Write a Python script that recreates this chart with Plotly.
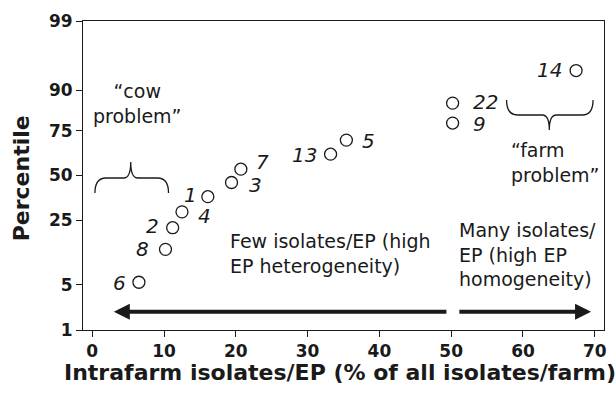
import plotly.graph_objects as go
from statistics import NormalDist

# ---- data ----
farm_ids = ["6", "8", "2", "4", "1", "3", "7", "13", "5", "9", "22", "14"]
intrafarm_pct = [6.5, 10.2, 11.2, 12.5, 16.1, 19.4, 20.7, 33.2, 35.4, 50.2, 50.2, 67.4]
percentile = [5.4, 13.3, 21.6, 29.2, 37.5, 45.8, 53.8, 62.6, 70.3, 78.5, 86.2, 94.3]
# label offsets (px) relative to point: dx right, dy down
label_dx = [-19, -23, -20, 23, -17, 24, 22, -26, 22, 27, 33, -27]
label_dy = [1, 0, -2, 4, -2, 2, -7, 1, 1, 1, -1, -1]

y_tick_pct = [1, 5, 25, 50, 75, 90, 99]
x_ticks = [0, 10, 20, 30, 40, 50, 60, 70]

FONT = "DejaVu Sans"
INK = "#1a1a1a"

nd = NormalDist()
z = lambda p: nd.inv_cdf(p / 100.0)

W, H = 616, 394
ML, MR, MT, MB = 83, 9, 21, 64
PW, PH = W - ML - MR, H - MT - MB
XR = [-1.29, 71.29]
YR = [z(1), z(99)]


def px2x(px):
    return XR[0] + (px - ML) / PW * (XR[1] - XR[0])


def py2y(py):
    return YR[1] - (py - MT) / PH * (YR[1] - YR[0])


yvals = [z(p) for p in percentile]

fig = go.Figure()
fig.add_trace(go.Scatter(
    x=intrafarm_pct, y=yvals, mode="markers",
    marker=dict(symbol="circle-open", size=12, color=INK, line=dict(width=1.3, color=INK)),
    hoverinfo="skip", showlegend=False,
))

ann = []
for lab, xv, yv, dx, dy in zip(farm_ids, intrafarm_pct, yvals, label_dx, label_dy):
    ann.append(dict(x=xv, y=yv, xref="x", yref="y", text=f"<i>{lab}</i>", showarrow=False,
                    xshift=dx, yshift=-dy, font=dict(family=FONT, size=20, color=INK)))

# text blocks
ann.append(dict(x=px2x(137), y=py2y(103), xref="x", yref="y", text="“cow<br>problem”",
                showarrow=False, align="center", xanchor="center", yanchor="middle",
                font=dict(family=FONT, size=19, color=INK)))
ann.append(dict(x=px2x(511), y=py2y(162), xref="x", yref="y", text="“farm<br>problem”",
                showarrow=False, align="left", xanchor="left", yanchor="middle",
                font=dict(family=FONT, size=19, color=INK)))
ann.append(dict(x=px2x(229), y=py2y(253), xref="x", yref="y",
                text="Few isolates/EP (high<br>EP heterogeneity)",
                showarrow=False, align="left", xanchor="left", yanchor="middle",
                font=dict(family=FONT, size=19, color=INK)))
ann.append(dict(x=px2x(459), y=py2y(254), xref="x", yref="y",
                text="Many isolates/<br>EP (high EP<br>homogeneity)",
                showarrow=False, align="left", xanchor="left", yanchor="middle",
                font=dict(family=FONT, size=19, color=INK)))

# arrows
ya = py2y(311.7)
ann.append(dict(x=px2x(114), y=ya, ax=px2x(450), ay=ya, xref="x", yref="y", axref="x", ayref="y",
                showarrow=True, arrowhead=2, arrowsize=0.8, arrowwidth=4, arrowcolor=INK, text=""))
ann.append(dict(x=px2x(594), y=ya, ax=px2x(460), ay=ya, xref="x", yref="y", axref="x", ayref="y",
                showarrow=True, arrowhead=2, arrowsize=0.8, arrowwidth=4, arrowcolor=INK, text=""))

# axis titles
ann.append(dict(x=(341 - ML) / PW, y=(MT + PH - 372) / PH, xref="paper", yref="paper",
                text="<b>Intrafarm isolates/EP (% of all isolates/farm)</b>", showarrow=False,
                xanchor="center", yanchor="middle", font=dict(family=FONT, size=22, color=INK)))
ann.append(dict(x=(21 - ML) / PW, y=(MT + PH - 178) / PH, xref="paper", yref="paper",
                text="<b>Percentile</b>", showarrow=False, textangle=-90,
                xanchor="center", yanchor="middle", font=dict(family=FONT, size=22, color=INK)))


def P(px, py):
    return f"{px2x(px)},{py2y(py)}"


cow = (f"M {P(95,193)} Q {P(95,178)} {P(106,178)} L {P(124,178)} Q {P(131,178)} {P(131,162)} "
       f"Q {P(131,178)} {P(138,178)} L {P(158,178)} Q {P(169,178)} {P(169,193)}")
farm = (f"M {P(509,100)} Q {P(509,115)} {P(520,115)} L {P(545,115)} Q {P(552,115)} {P(552,130)} "
        f"Q {P(552,115)} {P(559,115)} L {P(585,115)} Q {P(596,115)} {P(596,100)}")
shapes = [dict(type="path", path=cow, xref="x", yref="y", line=dict(color=INK, width=1.3)),
          dict(type="path", path=farm, xref="x", yref="y", line=dict(color=INK, width=1.3))]

fig.update_layout(
    width=W, height=H, margin=dict(l=ML, r=MR, t=MT, b=MB),
    paper_bgcolor="white", plot_bgcolor="white",
    annotations=ann, shapes=shapes,
    xaxis=dict(range=XR, tickvals=x_ticks, ticks="outside", ticklen=6, tickcolor=INK,
               showline=True, linecolor=INK, linewidth=1, mirror=True, showgrid=False,
               zeroline=False, tickfont=dict(family=FONT, size=17, color=INK, weight="bold")),
    yaxis=dict(range=YR, tickvals=[z(p) for p in y_tick_pct], ticktext=[str(p) for p in y_tick_pct],
               ticks="outside", ticklen=6, tickcolor=INK,
               showline=True, linecolor=INK, linewidth=1, mirror=True, showgrid=False,
               zeroline=False, tickfont=dict(family=FONT, size=17, color=INK, weight="bold")),
)

fig.write_html("out.html")
